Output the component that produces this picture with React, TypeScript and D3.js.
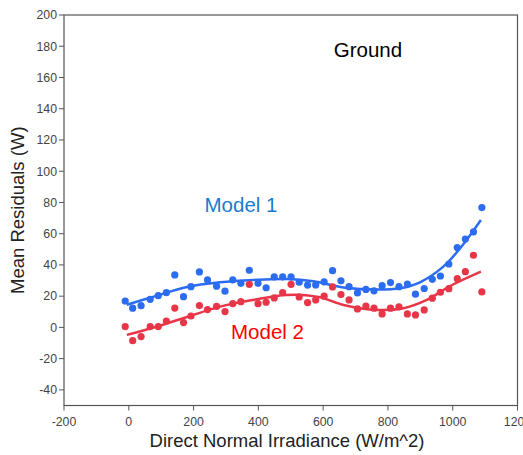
import React from "react";
import * as d3 from "d3";

const model1X = [-11, 12, 38, 66, 91, 116, 142, 169, 192, 218, 243, 271, 297, 321, 346, 372, 399, 424, 449, 475, 501, 526, 552, 577, 603, 629, 655, 680, 706, 732, 757, 782, 808, 834, 860, 885, 912, 937, 962, 988, 1014, 1039, 1064, 1090];
const model1Y = [16.9, 12.3, 13.9, 18, 20.3, 22.2, 33.6, 19.7, 26.1, 35.5, 30.4, 26.4, 23.2, 30.4, 28.2, 36.6, 28.2, 25.4, 32.4, 32.4, 32.4, 28.9, 27.1, 27.2, 29.1, 36.3, 29.8, 26.1, 22.1, 24.3, 23.4, 26.7, 28.7, 26.1, 27.8, 21.3, 24.9, 30.8, 32.9, 40.6, 51.1, 56.6, 61.1, 76.7];
const model2X = model1X;
const model2Y = [0.5, -8.5, -5.9, 0.5, 0.5, 4.1, 12.4, 3.1, 7.3, 14.0, 11.4, 13.4, 10.1, 15.2, 16.5, 27.6, 15.2, 16.1, 18.9, 22.2, 27.6, 19.5, 15.9, 17.6, 20, 25.9, 21, 17.6, 11.8, 13.6, 12.3, 8.6, 12.3, 13.1, 8.6, 8.0, 11.2, 18.7, 22.5, 24.8, 31.2, 35.7, 46.2, 22.7];

const fit1X = [-6, 77, 180, 282, 385, 488, 570, 663, 766, 838, 899, 971, 1023, 1087];
const fit1Y = [14.5, 19.7, 25.9, 28.9, 30.4, 31, 29.5, 25.6, 24.2, 25.1, 28.9, 38.9, 50.7, 68.8];
const fit2X = [-6, 77, 180, 282, 385, 488, 581, 663, 766, 848, 920, 992, 1087];
const fit2Y = [-4.8, -0.1, 6.7, 13.3, 17.6, 20.8, 19.7, 14.4, 11.2, 12.3, 17.6, 26.5, 35.7];

const xTicks = [-200, 0, 200, 400, 600, 800, 1000, 1200];
const yTicks = [-40, -20, 0, 20, 40, 60, 80, 100, 120, 140, 160, 180, 200];

const W = 523, H = 455;
const L = 64, R = 517.5, T = 15, B = 405.5;

export default function App() {
  const x = d3.scaleLinear().domain([-200, 1200]).range([L, R]);
  const y = d3.scaleLinear().domain([-50, 200]).range([B, T]);
  const line = d3
    .line<[number, number]>()
    .x((d) => x(d[0]))
    .y((d) => y(d[1]))
    .curve(d3.curveCatmullRom.alpha(0.5));
  const fit1 = fit1X.map((v, i) => [v, fit1Y[i]] as [number, number]);
  const fit2 = fit2X.map((v, i) => [v, fit2Y[i]] as [number, number]);
  const axisColor = "#555";
  const font = "Liberation Sans, Arial, sans-serif";
  const blue = "#2b6cf2";
  const red = "#e83648";
  return (
    <svg
      width={W}
      height={H}
      style={{ position: "absolute", left: 0, top: 0, background: "#fff" }}
      fontFamily={font}
    >
      <rect x={L} y={T} width={R - L} height={B - T} fill="#fff" stroke={axisColor} strokeWidth={1.2} />
      {yTicks.map((t) => (
        <g key={"y" + t}>
          <line x1={L - 5} x2={L} y1={y(t)} y2={y(t)} stroke={axisColor} strokeWidth={1} />
          <text x={L - 7} y={y(t) + 4.3} textAnchor="end" fontSize={12.3} fill="#444">
            {t}
          </text>
        </g>
      ))}
      {xTicks.map((t) => (
        <g key={"x" + t}>
          <line x1={x(t)} x2={x(t)} y1={B} y2={B + 5} stroke={axisColor} strokeWidth={1} />
          <text x={x(t)} y={B + 20} textAnchor="middle" fontSize={12.3} fill="#444">
            {t}
          </text>
        </g>
      ))}
      <path d={line(fit2) || ""} fill="none" stroke={red} strokeWidth={2.5} />
      <path d={line(fit1) || ""} fill="none" stroke={blue} strokeWidth={2.5} />
      {model2X.map((v, i) => (
        <circle key={"r" + i} cx={x(v)} cy={y(model2Y[i])} r={3.6} fill={red} />
      ))}
      {model1X.map((v, i) => (
        <circle key={"b" + i} cx={x(v)} cy={y(model1Y[i])} r={3.6} fill={blue} />
      ))}
      <text x={368} y={57} textAnchor="middle" fontSize={20.5} fill="#000">
        Ground
      </text>
      <text x={241} y={211.5} textAnchor="middle" fontSize={20.5} fill="#1a7ad2">
        Model 1
      </text>
      <text x={267.5} y={338.5} textAnchor="middle" fontSize={20.5} fill="#ff0000">
        Model 2
      </text>
      <text x={287} y={447} textAnchor="middle" fontSize={18.5} fill="#222">
        Direct Normal Irradiance (W/m^2)
      </text>
      <text
        transform={`translate(24,${(T + B) / 2}) rotate(-90)`}
        textAnchor="middle"
        fontSize={18.5}
        fill="#222"
      >
        Mean Residuals (W)
      </text>
    </svg>
  );
}
